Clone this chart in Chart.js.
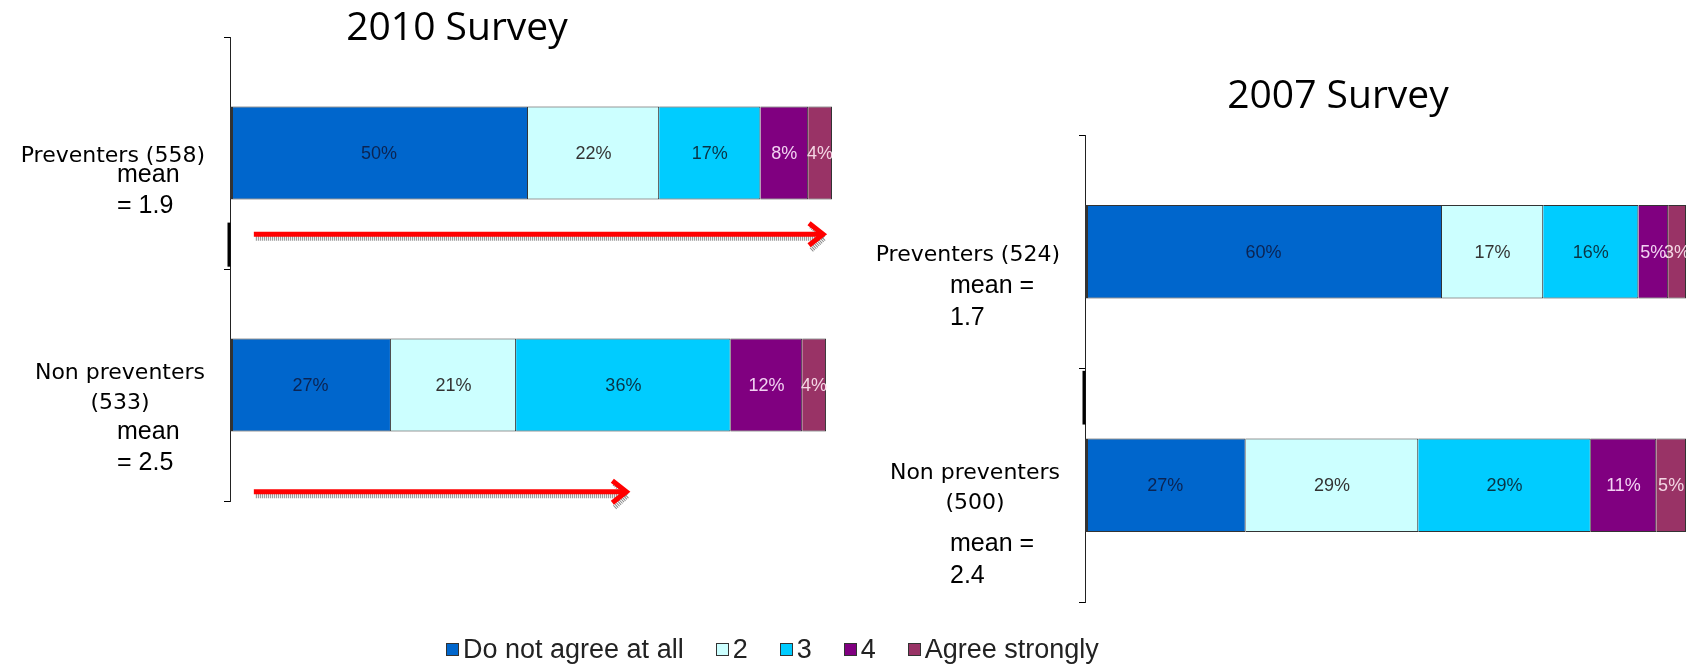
<!DOCTYPE html>
<html>
<head>
<meta charset="utf-8">
<title>2010 / 2007 Survey</title>
<script src="https://cdn.jsdelivr.net/npm/chart.js@4.4.1/dist/chart.umd.min.js"></script>
<style>
  html, body { margin: 0; padding: 0; background: #fff; }
  #page { position: relative; width: 1697px; height: 664px; overflow: hidden; }
  .box { position: absolute; top: 0; height: 664px; }
  #box2010 { left: 0; width: 850px; }
  #box2007 { left: 850px; width: 847px; }
  #legend {
    position: absolute; left: 446px; top: 634px;
    display: flex; align-items: center;
    font-family: 'Liberation Sans', Arial, sans-serif; font-size: 27px; color: #222;
  }
  #legend .item { display: flex; align-items: center; margin-right: 32px; }
  #legend .item:last-child { margin-right: 0; }
  #legend .swatch { width: 11px; height: 11px; border: 1px solid #333; margin-right: 4px; }
</style>
</head>
<body>
<div id="page">
  <div class="box" id="box2010"><canvas id="chart2010"></canvas></div>
  <div class="box" id="box2007"><canvas id="chart2007"></canvas></div>
  <div id="legend"></div>
</div>
<script>
const answers = ['Do not agree at all', '2', '3', '4', 'Agree strongly'];

const groups2010 = [['Preventers (558)'], ['Non preventers', '(533)']];
const means2010 = [['mean', '= 1.9'], ['mean', '= 2.5']];
const groups2007 = [['Preventers (524)'], ['Non preventers', '(500)']];
const means2007 = [['mean =', '1.7'], ['mean =', '2.4']];

// one row per answer: [preventers, non preventers]
const values2010 = [[50, 27], [22, 21], [17, 36], [8, 12], [4, 4]];
const values2007 = [[60, 27], [17, 29], [16, 29], [5, 11], [3, 5]];

// red arrows under the 2010 bars (in %)
const arrowEnds2010 = [100, 67];

const barColors = ['#0066CC', '#CCFFFF', '#00CCFF', '#800080', '#993366'];
const textColors = ['#0b2452', '#333333', '#0a3344', '#f2d2f2', '#f4d6e4'];

const surveyDecor = {
  id: 'surveyDecor',
  afterDatasetsDraw(chart, args, opts) {
    const ctx = chart.ctx;
    const area = chart.chartArea;
    const x = chart.scales.x;
    const y = chart.scales.y;

    // percent labels in the segments
    ctx.save();
    ctx.beginPath();
    ctx.rect(area.left, area.top, area.right - area.left, area.bottom - area.top);
    ctx.clip();
    ctx.font = '18px "Liberation Sans", Arial, sans-serif';
    ctx.textAlign = 'center';
    ctx.textBaseline = 'middle';
    chart.data.datasets.forEach((ds, i) => {
      chart.getDatasetMeta(i).data.forEach((bar, j) => {
        ctx.fillStyle = textColors[i];
        ctx.fillText(ds.data[j] + '%', (bar.x + bar.base) / 2, bar.y + 1);
      });
    });
    ctx.restore();

    // thick bit on the axis
    ctx.save();
    ctx.strokeStyle = '#000';
    ctx.lineWidth = 3;
    ctx.beginPath();
    ctx.moveTo(area.left - 1, y.getPixelForValue(opts.axisMark[0]));
    ctx.lineTo(area.left - 1, y.getPixelForValue(opts.axisMark[1]));
    ctx.stroke();
    ctx.restore();

    // arrows
    (opts.arrows || []).forEach((end, i) => {
      const yy = y.getPixelForValue(i + opts.arrowDrop[i]);
      const x0 = x.getPixelForValue(4);
      const x1 = x.getPixelForValue(end) - 3;
      ctx.save();
      ctx.lineWidth = 5;
      ctx.strokeStyle = '#8a8a8a';
      ctx.setLineDash([1, 1]);
      ctx.beginPath();
      ctx.moveTo(x0 + 2, yy + 4);
      ctx.lineTo(x1 - 3, yy + 4);
      ctx.moveTo(x1 - 12, yy - 8);
      ctx.lineTo(x1 + 1, yy + 4);
      ctx.lineTo(x1 - 12, yy + 16);
      ctx.stroke();
      ctx.setLineDash([]);
      ctx.strokeStyle = '#ff0000';
      ctx.lineWidth = 5;
      ctx.beginPath();
      ctx.moveTo(x0, yy);
      ctx.lineTo(x1 - 3, yy);
      ctx.stroke();
      ctx.beginPath();
      ctx.moveTo(x1 - 14, yy - 11);
      ctx.lineTo(x1, yy);
      ctx.lineTo(x1 - 14, yy + 11);
      ctx.stroke();
      ctx.restore();
    });
  },
  afterDraw(chart, args, opts) {
    const ctx = chart.ctx;
    const y = chart.scales.y;
    ctx.save();
    ctx.fillStyle = '#000';

    ctx.font = '39px "Open Sans", "Noto Sans", sans-serif';
    ctx.textAlign = 'center';
    ctx.textBaseline = 'alphabetic';
    ctx.fillText(opts.title, opts.titleX, opts.titleY);

    opts.names.forEach((lines, i) => {
      const cy = y.getPixelForValue(i);
      ctx.font = '22px "DejaVu Sans", sans-serif';
      ctx.textAlign = 'center';
      const widest = Math.max(...lines.map(t => ctx.measureText(t).width));
      const cx = chart.chartArea.left - opts.nameGap - widest / 2;
      let base = cy + 9 - (lines.length - 1) * 15;
      lines.forEach(t => {
        ctx.fillText(t, cx, base);
        base += 30;
      });
      base = base - 30 + opts.meanGap[i];
      ctx.font = '25px "Liberation Sans", Arial, sans-serif';
      ctx.textAlign = 'left';
      opts.means[i].forEach(t => {
        ctx.fillText(t, chart.chartArea.left - opts.meanIndent, base);
        base += opts.meanLine;
      });
    });
    ctx.restore();
  }
};

function makeDatasets(values) {
  return answers.map((a, i) => ({
    label: a,
    data: values[i],
    backgroundColor: barColors[i],
    borderColor: '#333',
    borderWidth: i === 0 ? { left: 3, top: 1, bottom: 1, right: 1 } : 1,
    borderSkipped: i === 0 ? false : 'start',
    barPercentage: 0.4,
    categoryPercentage: 1
  }));
}

function makeChart(id, groups, values, axisWidth, padding, decor) {
  return new Chart(document.getElementById(id), {
    type: 'bar',
    data: {
      labels: groups.map(g => g.join(' ')),
      datasets: makeDatasets(values)
    },
    options: {
      indexAxis: 'y',
      responsive: true,
      maintainAspectRatio: false,
      animation: false,
      layout: { padding: padding },
      scales: {
        x: { stacked: true, min: 0, max: 101, display: false },
        y: {
          stacked: true,
          ticks: { display: false },
          grid: { drawOnChartArea: false, drawTicks: true, tickLength: 6, color: '#000', offset: true },
          border: { display: true, color: '#222', dash: [1, 2] },
          afterFit: scale => { scale.width = axisWidth; }
        }
      },
      plugins: {
        legend: { display: false },
        tooltip: { enabled: false },
        surveyDecor: decor
      }
    },
    plugins: [surveyDecor]
  });
}

const chart2010 = makeChart('chart2010', groups2010, values2010, 230,
  { left: 0, right: 18, top: 37, bottom: 163 },
  { title: '2010 Survey', titleX: 457, titleY: 40, names: groups2010, means: means2010,
    nameGap: 25, meanGap: [20, 30], meanLine: 31, meanIndent: 113, axisMark: [0.30, 0.49],
    arrows: arrowEnds2010, arrowDrop: [0.35, 0.46] });

const chart2007 = makeChart('chart2007', groups2007, values2007, 235,
  { left: 0, right: 11, top: 135, bottom: 62 },
  { title: '2007 Survey', titleX: 488, titleY: 108, names: groups2007, means: means2007,
    nameGap: 25, meanGap: [32, 42], meanLine: 32, meanIndent: 135, axisMark: [0.51, 0.74] });

// legend built from the chart's datasets
const legend = document.getElementById('legend');
chart2010.data.datasets.forEach(ds => {
  const item = document.createElement('span');
  item.className = 'item';
  const sw = document.createElement('span');
  sw.className = 'swatch';
  sw.style.background = ds.backgroundColor;
  item.appendChild(sw);
  item.appendChild(document.createTextNode(ds.label));
  legend.appendChild(item);
});
</script>
</body>
</html>
